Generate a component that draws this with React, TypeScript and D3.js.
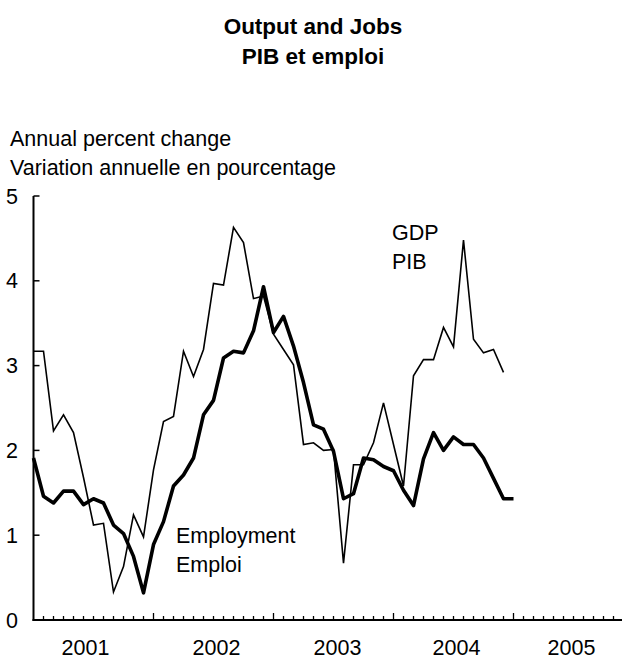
import React from "react";
import * as d3 from "d3";

// Monthly observations, first point = month 0 (start of 2001)
const gdp: number[] = [
  3.17, 3.17, 2.23, 2.42, 2.21, 1.68, 1.12, 1.14, 0.33, 0.63,
  1.24, 0.98, 1.77, 2.34, 2.40, 3.17, 2.87, 3.19, 3.97, 3.95,
  4.63, 4.45, 3.79, 3.82, 3.37, 3.19, 3.01, 2.07, 2.09, 2.00,
  2.01, 0.67, 1.83, 1.83, 2.09, 2.56, 2.07, 1.58, 2.88, 3.07,
  3.07, 3.45, 3.22, 4.48, 3.31, 3.15, 3.19, 2.92,
];

const employment: number[] = [
  1.91, 1.46, 1.38, 1.52, 1.52, 1.36, 1.43, 1.38, 1.12, 1.02,
  0.75, 0.32, 0.89, 1.16, 1.58, 1.71, 1.91, 2.42, 2.59, 3.09,
  3.17, 3.15, 3.41, 3.93, 3.39, 3.58, 3.23, 2.80, 2.30, 2.25,
  1.99, 1.43, 1.49, 1.91, 1.89, 1.81, 1.76, 1.53, 1.35, 1.90,
  2.21, 2.00, 2.16, 2.07, 2.07, 1.91, 1.67, 1.43, 1.43,
];

const years: string[] = ["2001", "2002", "2003", "2004", "2005"];
const yTicks: number[] = [0, 1, 2, 3, 4, 5];
const titleLines: string[] = ["Output and Jobs", "PIB et emploi"];
const unitLines: string[] = ["Annual percent change", "Variation annuelle en pourcentage"];
const gdpLabel: string[] = ["GDP", "PIB"];
const empLabel: string[] = ["Employment", "Emploi"];

const W = 622;
const H = 660;
const FONT = "'Liberation Sans', Arial, Helvetica, sans-serif";
const FS = 21.5;

export default function App() {
  const x = d3.scaleLinear().domain([0, 58.85]).range([33.5, 622]);
  const y = d3.scaleLinear().domain([0, 5]).range([620, 196]);

  const line = d3
    .line<number>()
    .x((_, i) => x(i))
    .y((d) => y(d));

  const monthTicks = d3.range(1, 59);
  const labelShift = [-0.8, 0.3, 0.4, 0.3, -0.2];

  return (
    <svg
      width={W}
      height={H}
      style={{ position: "absolute", left: 0, top: 0, background: "#fff" }}
      fontFamily={FONT}
    >
      <rect x={0} y={0} width={W} height={H} fill="#fff" />
      {titleLines.map((t, i) => (
        <text
          key={t}
          x={313}
          y={34 + i * 30}
          textAnchor="middle"
          fontSize={22.5}
          fontWeight="bold"
          fill="#000"
        >
          {t}
        </text>
      ))}
      {unitLines.map((t, i) => (
        <text key={t} x={10} y={146 + i * 29} fontSize={FS} fill="#000">
          {t}
        </text>
      ))}

      {/* y axis */}
      <line x1={x(0)} x2={x(0)} y1={y(5)} y2={y(0) + 1} stroke="#000" strokeWidth={2} />
      {yTicks.map((t) => (
        <g key={t}>
          <line x1={x(0)} x2={x(0) + 6} y1={y(t)} y2={y(t)} stroke="#000" strokeWidth={1.5} />
          <text x={18} y={y(t) + 7.5} textAnchor="end" fontSize={FS} fill="#000">
            {t}
          </text>
        </g>
      ))}

      {/* x axis */}
      <line x1={x(0) - 1} x2={622} y1={y(0)} y2={y(0)} stroke="#000" strokeWidth={2} />
      {monthTicks.map((m) => (
        <line
          key={m}
          x1={x(m)}
          x2={x(m)}
          y1={y(0)}
          y2={y(0) - (m % 12 === 0 ? 7 : 4)}
          stroke="#000"
          strokeWidth={1.3}
        />
      ))}
      {years.map((yr, i) => (
        <text
          key={yr}
          x={x(i * 12 + 6 + labelShift[i])}
          y={655}
          textAnchor="middle"
          fontSize={FS}
          fill="#000"
        >
          {yr}
        </text>
      ))}

      {/* series */}
      <path d={line(gdp) || ""} fill="none" stroke="#000" strokeWidth={1.6} strokeLinejoin="miter" />
      <path d={line(employment) || ""} fill="none" stroke="#000" strokeWidth={3.6} strokeLinejoin="round" />

      {gdpLabel.map((t, i) => (
        <text key={t} x={392} y={240 + i * 29} fontSize={FS} fill="#000">
          {t}
        </text>
      ))}
      {empLabel.map((t, i) => (
        <text key={t} x={176} y={543 + i * 29} fontSize={FS} fill="#000">
          {t}
        </text>
      ))}
    </svg>
  );
}
